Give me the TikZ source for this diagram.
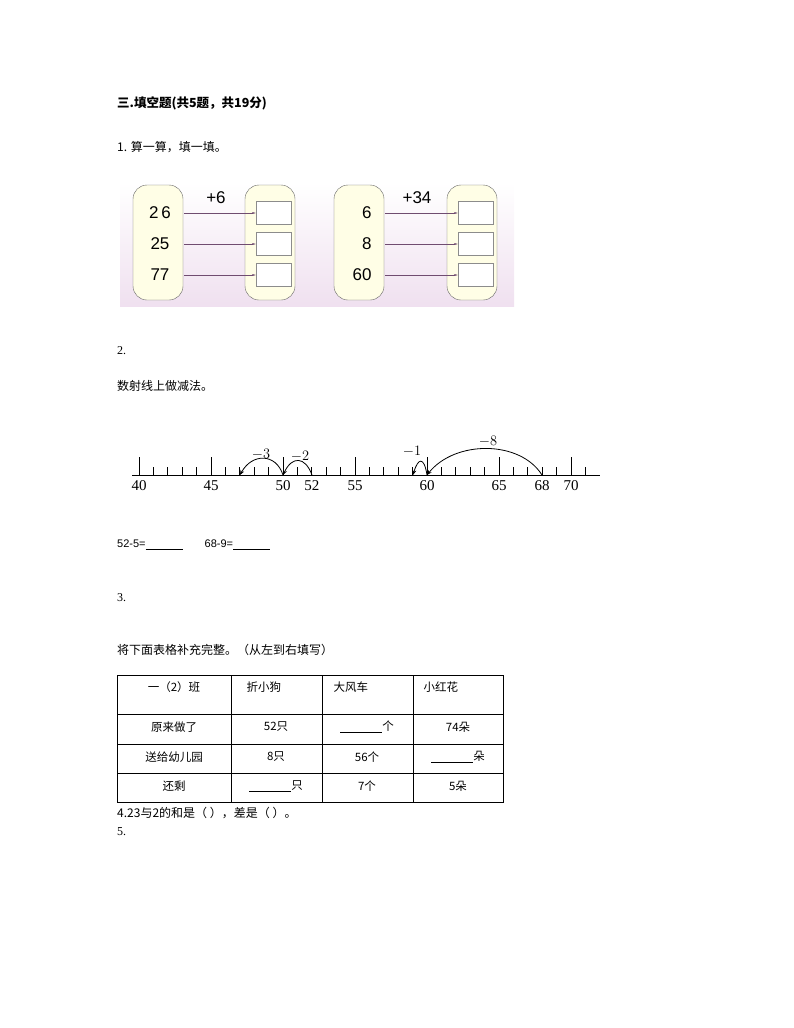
\documentclass[tikz,border=0pt]{standalone}
\usepackage{fontspec}
\setmainfont{Liberation Serif}
\newfontfamily\cjk{Noto Sans CJK SC}
\newfontfamily\arial{Liberation Sans}
\usetikzlibrary{arrows.meta}
\begin{document}
\begin{tikzpicture}[x=1pt,y=-1pt,
  txt/.style={anchor=west,inner sep=0pt,font=\cjk\fontsize{12}{14}\selectfont},
  pill/.style={draw=black!60,fill=yellow!10!white,rounded corners=14pt},
  sq/.style={draw=black!45,fill=white,minimum width=35,minimum height=23,inner sep=0},
  arr/.style={draw=violet!40!black!70,-{Stealth[length=4pt,width=2pt]}},
  num/.style={font=\arial\fontsize{17}{18}\selectfont},
  nl/.style={font=\fontsize{15}{17}\selectfont,inner sep=0},
  jump/.style={thick,-{Stealth[length=5pt,width=4pt]}},
  cell/.style={font=\cjk\fontsize{11.5}{13}\selectfont}]
\useasboundingbox (0,0) rectangle (794,1028);
\node[txt,font=\cjk\bfseries\fontsize{12.5}{14}\selectfont] (title) at (117,103) {三.填空题(共5题，共19分)};
\node[txt] (q1) at (117,147) {1. 算一算，填一填。};
% panel
\shade[top color=white,bottom color=violet!12] (120,183) rectangle (514,306);
\foreach \x in {133,245,334,447}{
  \draw[pill] (\x,185) rectangle ++(50,115);
}
\foreach \y/\i in {213/1,244/2,275/3}{
  \node[sq] (r\i) at (273.5,\y) {};
  \node[sq] (s\i) at (475.5,\y) {};
  \coordinate (ra\i) at (184,\y);
  \coordinate (sa\i) at (385,\y);
  \draw[arr] (ra\i) -- (r\i.west);
  \draw[arr] (sa\i) -- (s\i.west);
}
\node[num] (a1) at (160,213) {2\,6};
\node[num] (a2) at (160,244) {25};
\node[num] (a3) at (160,275) {77};
\node[num,anchor=east] (c1) at (375,213) {6};
\node[num,anchor=east] (c2) at (375,244) {8};
\node[num,anchor=east] (c3) at (375,275) {60};
\node[num] (p6) at (216,198) {+6};
\node[num] (p34) at (417,198) {+34};
% question 2
\node[txt,font=\fontsize{12}{14}\selectfont] (q2) at (117,351) {2.};
\node[txt] (q2t) at (117,386) {数射线上做减法。};
\draw[thick] (132,475) -- (600,475);
\foreach \v in {40,...,71}{
  \pgfmathsetmacro\xx{139+14.4*(\v-40)}
  \pgfmathtruncatemacro\m{mod(\v,5)}
  \ifnum\m=0 \draw[thick] (\xx,475) -- (\xx,457);
  \else \draw[thick] (\xx,475) -- (\xx,467); \fi
}
\foreach \v in {40,45,50,52,55,60,65,68,70}{
  \pgfmathsetmacro\xx{139+14.4*(\v-40)}
  \node[nl,anchor=north] (l\v) at (\xx,480) {\v};
}
\coordinate (p52) at (312,475); \coordinate (p50) at (283,475);
\coordinate (p47) at (240,475); \coordinate (p60) at (427,475);
\coordinate (p59) at (413,475); \coordinate (p68) at (542,475);
\draw[jump] (p52) .. controls (305,456) and (292,456) .. (p50);
\draw[jump] (p50) .. controls (276,453) and (252,453) .. (p47);
\draw[jump] (p60) .. controls (424,456) and (418,458) .. (p59);
\draw[jump] (p68) .. controls (520,440) and (455,440) .. (p60);
\node[nl] (m3) at (261,454) {$-3$};
\node[nl] (m2) at (300,456) {$-2$};
\node[nl] (m1) at (412,451) {$-1$};
\node[nl] (m8) at (488,441) {$-8$};
\node[txt,font=\arial\fontsize{11}{13}\selectfont] (e1) at (117,545) {52-5=\underline{\hspace{37pt}}\hspace{22pt}68-9=\underline{\hspace{37pt}}};
% question 3
\node[txt,font=\fontsize{12}{14}\selectfont] (q3) at (117,598) {3.};
\node[txt] (q3t) at (117,650) {将下面表格补充完整。（从左到右填写）};
\draw (117,675) rectangle (503,802);
\foreach \x in {231,322,413} \draw (\x,675) -- (\x,802);
\foreach \y in {714,744,773} \draw (117,\y) -- (503,\y);
\node[cell] (h0) at (174,687) {一（2）班};
\node[cell,anchor=west] (h1) at (243,687) {折小狗};
\node[cell,anchor=west] (h2) at (330,687) {大风车};
\node[cell,anchor=west] (h3) at (420,687) {小红花};
\node[cell] (r10) at (174,727) {原来做了};
\node[cell] (r11) at (276,727) {52只};
\node[cell] (r12) at (367,727) {\underline{\hspace{42pt}}个};
\node[cell] (r13) at (458,727) {74朵};
\node[cell] (r20) at (174,757) {送给幼儿园};
\node[cell] (r21) at (276,757) {8只};
\node[cell] (r22) at (367,757) {56个};
\node[cell] (r23) at (458,757) {\underline{\hspace{42pt}}朵};
\node[cell] (r30) at (174,786) {还剩};
\node[cell] (r31) at (276,786) {\underline{\hspace{42pt}}只};
\node[cell] (r32) at (367,786) {7个};
\node[cell] (r33) at (458,786) {5朵};
\node[txt] (q4) at (117,813) {4.23与2的和是（ ），差是（ ）。};
\node[txt,font=\fontsize{12}{14}\selectfont] (q5) at (117,832) {5.};
\end{tikzpicture}
\end{document}
